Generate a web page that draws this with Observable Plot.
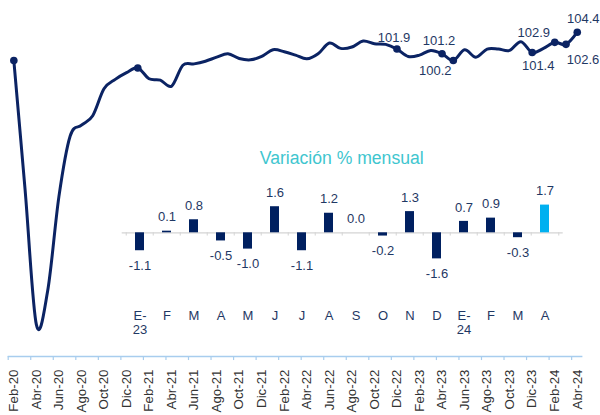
<!DOCTYPE html>
<html>
<head>
<meta charset="utf-8">
<script src="https://cdn.jsdelivr.net/npm/d3@7"></script>
<script src="https://cdn.jsdelivr.net/npm/@observablehq/plot@0.6"></script>
<style>
  html, body { margin: 0; padding: 0; background: #fff; }
  #wrap { position: relative; width: 600px; height: 415px; overflow: hidden; }
  #wrap > div { position: absolute; left: 0; top: 0; }
  svg { font-family: "Liberation Sans", Arial, sans-serif; }
</style>
</head>
<body>
<div id="wrap"><div id="main"></div><div id="inset"></div></div>
<script>
// ---- Main series: index (monthly) ----
const months = [
  "Feb-20","Mar-20","Abr-20","May-20","Jun-20","Jul-20","Ago-20","Sep-20","Oct-20","Nov-20","Dic-20",
  "Ene-21","Feb-21","Mar-21","Abr-21","May-21","Jun-21","Jul-21","Ago-21","Sep-21","Oct-21","Nov-21","Dic-21",
  "Ene-22","Feb-22","Mar-22","Abr-22","May-22","Jun-22","Jul-22","Ago-22","Sep-22","Oct-22","Nov-22","Dic-22",
  "Ene-23","Feb-23","Mar-23","Abr-23","May-23","Jun-23","Jul-23","Ago-23","Sep-23","Oct-23","Nov-23","Dic-23",
  "Ene-24","Feb-24","Mar-24","Abr-24"
];
const indexValues = [
  100.2, 81.0, 61.0, 66.0, 80.0, 89.0, 90.6, 92.0, 96.0, 97.4, 98.4,
  99.1, 97.5, 97.3, 96.4, 99.5, 99.7, 100.1, 100.7, 101.2, 100.5, 100.3, 100.8,
  101.8, 101.5, 101.0, 100.45, 101.2, 102.8, 102.0, 102.2, 103.1, 102.7, 102.6, 101.9,
  100.8, 101.0, 101.7, 101.2, 100.2, 101.8, 100.7, 101.9, 101.9, 101.7, 103.0, 101.4,
  102.0, 102.9, 102.6, 104.4
];
const markedMonths = ["Feb-20","Ene-21","Dic-22","Abr-23","May-23","Dic-23","Feb-24","Mar-24","Abr-24"];
const labeledMonths = ["Dic-22","Abr-23","May-23","Dic-23","Feb-24","Mar-24","Abr-24"];

// ---- Inset: monthly % change ----
const barMonths = ["2023-01","2023-02","2023-03","2023-04","2023-05","2023-06","2023-07","2023-08",
                   "2023-09","2023-10","2023-11","2023-12","2024-01","2024-02","2024-03","2024-04"];
const barLabels = ["E-\n23","F","M","A","M","J","J","A","S","O","N","D","E-\n24","F","M","A"];
const barValues = [-1.1, 0.1, 0.8, -0.5, -1.0, 1.6, -1.1, 1.2, 0.0, -0.2, 1.3, -1.6, 0.7, 0.9, -0.3, 1.7];
const insetTitle = "Variación % mensual";

// ---- Build tables ----
const rows = months.map((m, i) => ({i, m, v: indexValues[i]}));
const byMonth = new Map(rows.map(d => [d.m, d]));
const pick = list => list.map(m => byMonth.get(m));
const tickLabelRows = rows.filter(d => d.i % 2 === 0);
const boundaries = d3.range(-0.5, 50, 2);

const navy = "#0b2363";
const labelColor = "#1f3864";
const font = "'Liberation Sans', Arial, sans-serif";
const yBase = 56.28;

// label placement offsets (screen pixels), per labelled month
const labelOffset = {
  "Dic-22": [-3, -11], "Abr-23": [-3, -13], "May-23": [-18, 10], "Dic-23": [6, 13],
  "Feb-24": [-21, -10], "Mar-24": [17, 15], "Abr-24": [6, -13]
};
const labelMarks = pick(labeledMonths).map(d =>
  Plot.text([d], {x: "i", y: "v", text: r => r.v.toFixed(1),
    dx: labelOffset[d.m][0], dy: labelOffset[d.m][1], fill: labelColor, fontSize: 13}));

const main = Plot.plot({
  width: 600, height: 415,
  marginLeft: 0, marginRight: 0, marginTop: 0, marginBottom: 0,
  x: {type: "linear", domain: [-0.5, 50.5], range: [7.7, 582.4], axis: null},
  y: {domain: [yBase, 107], range: [356, 14.2], axis: null},
  style: {fontFamily: font, fontSize: "13px", background: "transparent", overflow: "visible"},
  marks: [
    Plot.ruleY([yBase], {x1: -0.5, x2: 50.5, stroke: "#a8cdee", strokeWidth: 1.4}),
    Plot.ruleX(boundaries, {x: d => d, y1: yBase, y2: yBase - 0.6, stroke: "#a8cdee", strokeWidth: 1.2}),
    Plot.line(rows, {x: "i", y: "v", curve: "cardinal", stroke: navy, strokeWidth: 3}),
    Plot.dot(pick(markedMonths), {x: "i", y: "v", r: 3.8, fill: navy}),
    ...labelMarks,
    Plot.text(tickLabelRows, {x: "i", y: yBase, text: "m", rotate: -90, textAnchor: "end", dy: 13, fill: "#333", fontSize: 13.3})
  ]
});
document.getElementById("main").append(main);

const barRows = barMonths.map((k, i) => ({k, label: barLabels[i], v: barValues[i]}));
const lastKey = barMonths[barMonths.length - 1];
const x0 = 121.7, x1 = 562.7;
const step = (x1 - x0) / barMonths.length;

const inset = Plot.plot({
  width: 600, height: 415,
  marginLeft: x0, marginRight: 600 - x1, marginTop: 158, marginBottom: 109,
  x: {type: "band", domain: barMonths, paddingInner: 0.67, paddingOuter: 0.335, axis: null},
  y: {domain: [-2, 2], range: [264.9, 199.7], axis: null},
  style: {fontFamily: font, fontSize: "13px", background: "transparent", overflow: "visible"},
  marks: [
    Plot.ruleY([0], {stroke: "#d4d4d4", strokeWidth: 1.2}),
    Plot.ruleX(barMonths, {x: d => d, y1: 0, y2: -0.2, dx: -step / 2, stroke: "#d4d4d4"}),
    Plot.ruleX([lastKey], {x: d => d, y1: 0, y2: -0.2, dx: step / 2, stroke: "#d4d4d4"}),
    Plot.barY(barRows, {x: "k", y: "v", fill: d => d.k === lastKey ? "#00b0f0" : "#002060"}),
    Plot.text(barRows.filter(d => d.v >= 0), {x: "k", y: "v", text: d => d.v.toFixed(1), dy: -14, fill: labelColor, fontSize: 13}),
    Plot.text(barRows.filter(d => d.v < 0), {x: "k", y: "v", text: d => d.v.toFixed(1), dy: 15, fill: labelColor, fontSize: 13}),
    Plot.text(barRows, {x: "k", text: "label", frameAnchor: "bottom", lineAnchor: "top", lineHeight: 1.1, dy: 3, fill: labelColor, fontSize: 13}),
    Plot.text([insetTitle], {frameAnchor: "top", lineAnchor: "middle", text: d => d, dx: -1, fill: "#3fc6cf", fontSize: 17.6})
  ]
});
document.getElementById("inset").append(inset);
</script>
</body>
</html>
